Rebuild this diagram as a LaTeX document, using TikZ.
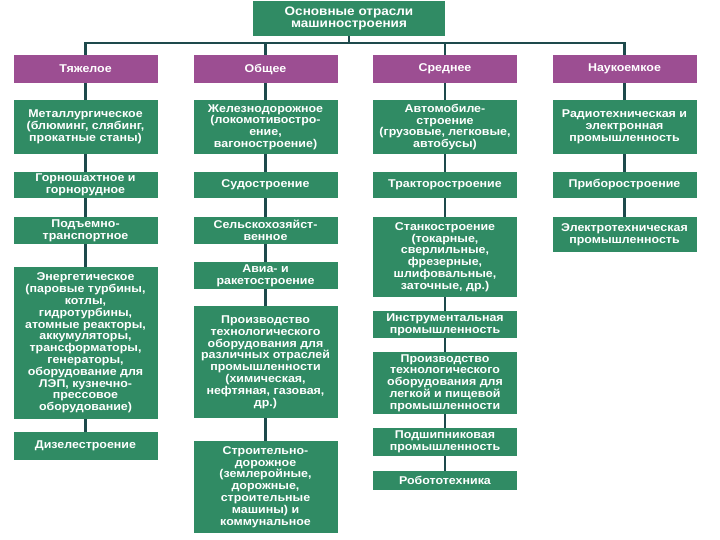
\documentclass[tikz,border=0pt]{standalone}
\usepackage{fontspec}
\setmainfont{Liberation Sans}[FakeStretch=1.1]
\definecolor{boxgreen}{RGB}{48,139,100}
\definecolor{boxpurple}{RGB}{156,78,146}
\definecolor{linecol}{RGB}{30,74,76}
\tikzset{
  base/.style={rectangle, inner sep=0pt, text=white, align=center,
    font=\fontsize{11.3}{11.8}\selectfont\bfseries, minimum width=144pt},
  gbox/.style={base, fill=boxgreen},
  pbox/.style={base, fill=boxpurple},
  conn/.style={draw=linecol, line width=2.6pt}
}
\begin{document}
\begin{tikzpicture}[x=1pt,y=-1pt]
\useasboundingbox (0,0) rectangle (720,540);
\coordinate (busL) at (85.5,43);
\coordinate (busR) at (624.5,43);
% top
\node[gbox, minimum width=192pt, minimum height=35pt, font=\fontsize{12.3}{12.5}\selectfont\bfseries] (top) at (349,18.5) {Основные отрасли\\машиностроения};
% headers
\node[pbox, minimum height=28pt] (h1) at (85.5,69) {Тяжелое};
\node[pbox, minimum height=28pt] (h2) at (265.5,69) {Общее};
\node[pbox, minimum height=28pt] (h3) at (445,69) {Среднее};
\node[pbox, minimum height=28pt] (h4) at (624.5,69) {Наукоемкое};
% column 1
\node[gbox, minimum height=54pt] (a1) at (85.5,127) {Металлургическое\\(блюминг, слябинг,\\прокатные станы)};
\node[gbox, minimum height=26pt] (a2) at (85.5,185) {Горношахтное и\\горнорудное};
\node[gbox, minimum height=27pt] (a3) at (85.5,230.5) {Подъемно-\\транспортное};
\node[gbox, minimum height=152pt] (a4) at (85.5,343) {Энергетическое\\(паровые турбины,\\котлы,\\гидротурбины,\\атомные реакторы,\\аккумуляторы,\\трансформаторы,\\генераторы,\\оборудование для\\ЛЭП, кузнечно-\\прессовое\\оборудование)};
\node[gbox, minimum height=28pt] (a5) at (85.5,446) {Дизелестроение};
% column 2
\node[gbox, minimum height=54pt] (b1) at (265.5,127) {Железнодорожное\\(локомотивостро-\\ение,\\вагоностроение)};
\node[gbox, minimum height=26pt] (b2) at (265.5,185) {Судостроение};
\node[gbox, minimum height=27pt] (b3) at (265.5,230.5) {Сельскохозяйст-\\венное};
\node[gbox, minimum height=27pt] (b4) at (265.5,275.5) {Авиа- и\\ракетостроение};
\node[gbox, minimum height=112pt] (b5) at (265.5,362) {Производство\\технологического\\оборудования для\\различных отраслей\\промышленности\\(химическая,\\нефтяная, газовая,\\др.)};
\node[gbox, minimum height=92pt] (b6) at (265.5,487) {Строительно-\\дорожное\\(землеройные,\\дорожные,\\строительные\\машины) и\\коммунальное};
% column 3
\node[gbox, minimum height=54pt] (c1) at (445,127) {Автомобиле-\\строение\\(грузовые, легковые,\\автобусы)};
\node[gbox, minimum height=26pt] (c2) at (445,185) {Тракторостроение};
\node[gbox, minimum height=80pt] (c3) at (445,257) {Станкостроение\\(токарные,\\сверлильные,\\фрезерные,\\шлифовальные,\\заточные, др.)};
\node[gbox, minimum height=27pt] (c4) at (445,324.5) {Инструментальная\\промышленность};
\node[gbox, minimum height=62pt] (c5) at (445,383) {Производство\\технологического\\оборудования для\\легкой и пищевой\\промышленности};
\node[gbox, minimum height=28pt] (c6) at (445,442) {Подшипниковая\\промышленность};
\node[gbox, minimum height=19pt] (c7) at (445,480.5) {Робототехника};
% column 4
\node[gbox, minimum height=54pt] (d1) at (624.5,127) {Радиотехническая и\\электронная\\промышленность};
\node[gbox, minimum height=26pt] (d2) at (624.5,185) {Приборостроение};
\node[gbox, minimum height=35pt] (d3) at (624.5,234.5) {Электротехническая\\промышленность};
% connectors
\draw[conn] (top.south) -- (top.south |- busL);
\draw[conn] (h1.north) -- (busL) -- (busR) -- (h4.north);
\draw[conn] (h2.north) -- (h2.north |- busL);
\draw[conn] (h3.north) -- (h3.north |- busL);
\draw[conn] (h1) -- (a1); \draw[conn] (a1) -- (a2); \draw[conn] (a2) -- (a3); \draw[conn] (a3) -- (a4); \draw[conn] (a4) -- (a5);
\draw[conn] (h2) -- (b1); \draw[conn] (b1) -- (b2); \draw[conn] (b2) -- (b3); \draw[conn] (b3) -- (b4); \draw[conn] (b4) -- (b5); \draw[conn] (b5) -- (b6);
\draw[conn] (h3) -- (c1); \draw[conn] (c1) -- (c2); \draw[conn] (c2) -- (c3); \draw[conn] (c3) -- (c4); \draw[conn] (c4) -- (c5); \draw[conn] (c5) -- (c6); \draw[conn] (c6) -- (c7);
\draw[conn] (h4) -- (d1); \draw[conn] (d1) -- (d2); \draw[conn] (d2) -- (d3);
\end{tikzpicture}
\end{document}
